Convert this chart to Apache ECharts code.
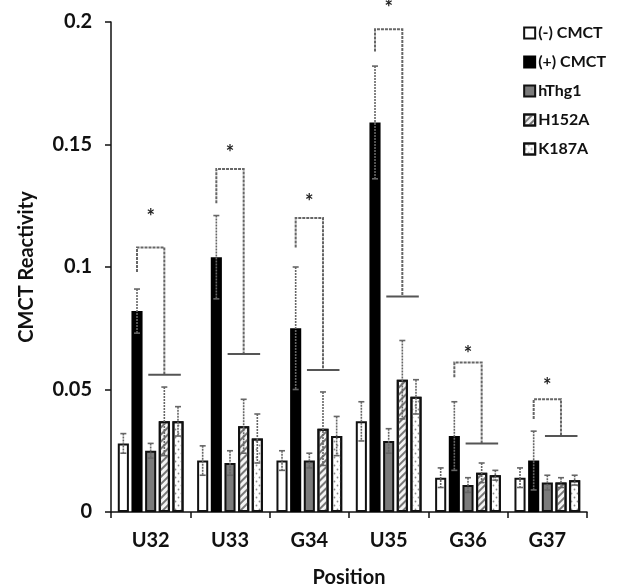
<!DOCTYPE html>
<html>
<head>
<meta charset="utf-8">
<script src="https://cdn.jsdelivr.net/npm/echarts@6/dist/echarts.min.js"></script>
<style>
html,body{margin:0;padding:0;background:#fff;}
#chart{width:617px;height:587px;}
</style>
</head>
<body>
<div id="chart"></div>
<script>
// ---- data ----
const categories = ['U32', 'U33', 'G34', 'U35', 'G36', 'G37'];
const seriesNames = ['(-) CMCT', '(+) CMCT', 'hThg1', 'H152A', 'K187A'];
const minusCMCT = [0.028, 0.021, 0.021, 0.037, 0.014, 0.014];
const minusErr  = [0.004, 0.006, 0.004, 0.008, 0.004, 0.004];
const plusCMCT  = [0.082, 0.104, 0.075, 0.159, 0.031, 0.021];
const plusErr   = [0.009, 0.017, 0.025, 0.023, 0.014, 0.012];
const hThg1     = [0.025, 0.020, 0.021, 0.029, 0.011, 0.012];
const hThg1Err  = [0.003, 0.005, 0.003, 0.005, 0.003, 0.003];
const H152A     = [0.037, 0.035, 0.034, 0.054, 0.016, 0.012];
const H152AErr  = [0.014, 0.011, 0.015, 0.016, 0.004, 0.002];
const K187A     = [0.037, 0.030, 0.031, 0.047, 0.015, 0.013];
const K187AErr  = [0.006, 0.010, 0.008, 0.007, 0.002, 0.002];
// significance brackets (data units)
const bracketLow = [0.098, 0.126, 0.108, 0.188, 0.055, 0.038];
const bracketTop = [0.108, 0.140, 0.120, 0.197, 0.061, 0.046];
const bracketBar = [0.056, 0.0645, 0.058, 0.088, 0.028, 0.031];
const starLevel  = [0.122, 0.148, 0.128, 0.207, 0.066, 0.053];
const yTicks = [0, 0.05, 0.1, 0.15, 0.2];

const values = [minusCMCT, plusCMCT, hThg1, H152A, K187A];
const errors = [minusErr, plusErr, hThg1Err, H152AErr, K187AErr];

// ---- layout / style ----
const BAR_W = 0.14, BAR_GAP = 0.23;
const STEP = BAR_W * (1 + BAR_GAP);
const FONT = 'Lato';

const styles = [
  {color: '#ffffff', borderColor: '#111', borderWidth: 2},
  {color: '#000000', borderColor: '#000', borderWidth: 2},
  {color: '#7b7b7b', borderColor: '#111', borderWidth: 2},
  {color: '#f4f4f4', borderColor: '#111', borderWidth: 2,
   decal: {symbol: 'rect', color: '#777', dashArrayX: [1, 0], dashArrayY: [1.5, 2.5], rotation: -Math.PI / 4}},
  {color: '#ffffff', borderColor: '#111', borderWidth: 2,
   decal: {symbol: 'circle', color: '#8a8a8a', symbolSize: 0.6, dashArrayX: [[3, 3], [0, 3, 3, 0]], dashArrayY: [3, 1], rotation: 0}}
];

const barSeries = seriesNames.map((n, i) => ({
  name: n, type: 'bar', data: values[i], barWidth: (BAR_W * 100) + '%', barGap: (BAR_GAP * 100) + '%',
  itemStyle: styles[i], z: 2, emphasis: {disabled: true}
}));

const errData = [];
values.forEach((arr, s) => arr.forEach((v, c) => errData.push([c, v, errors[s][c], s])));

const errSeries = {
  type: 'custom', name: 'err', z: 5, clip: false, silent: true,
  data: errData, encode: {x: 0, y: 1},
  renderItem: function (params, api) {
    const c = api.value(0), v = api.value(1), e = api.value(2), s = api.value(3);
    const band = api.size([1, 0])[0];
    const x = api.coord([c, v])[0] + (s - 2) * STEP * band;
    const yT = api.coord([c, v + e])[1];
    const yB = api.coord([c, Math.max(0, v - e)])[1];
    const st = {stroke: '#666', lineWidth: 1.6, lineDash: [2, 1]};
    const cap = 3;
    return {type: 'group', children: [
      {type: 'line', shape: {x1: x, y1: yT, x2: x, y2: yB}, style: st},
      {type: 'line', shape: {x1: x - cap, y1: yT, x2: x + cap, y2: yT}, style: {stroke: '#666', lineWidth: 1.6}},
      {type: 'line', shape: {x1: x - cap, y1: yB, x2: x + cap, y2: yB}, style: {stroke: '#666', lineWidth: 1.6}}
    ]};
  }
};

const brData = categories.map((c, i) => [i, bracketLow[i], bracketTop[i], bracketBar[i], starLevel[i]]);
const bracketSeries = {
  type: 'custom', name: 'bracket', z: 6, clip: false, silent: true,
  data: brData, encode: {x: 0, y: 1},
  renderItem: function (params, api) {
    const c = api.value(0);
    const band = api.size([1, 0])[0];
    const cx = api.coord([c, 0])[0];
    const xl = cx - STEP * band, xr = cx + STEP * band;
    const yLow = api.coord([c, api.value(1)])[1];
    const yTop = api.coord([c, api.value(2)])[1];
    const yBar = api.coord([c, api.value(3)])[1];
    const yStar = api.coord([c, api.value(4)])[1];
    return {type: 'group', children: [
      {type: 'polyline', shape: {points: [[xl, yLow], [xl, yTop], [xr, yTop], [xr, yBar]]},
       style: {stroke: '#666', lineWidth: 2, fill: null, lineDash: [3, 1]}},
      {type: 'line', shape: {x1: cx - 0.03 * band, y1: yBar, x2: cx + 0.38 * band, y2: yBar},
       style: {stroke: '#555', lineWidth: 2}},
      {type: 'text', x: (xl + xr) / 2, y: yStar + 4,
       style: {text: '*', fill: '#222', font: 'bold 20px ' + FONT, align: 'center', verticalAlign: 'middle'}}
    ]};
  }
};

const chart = echarts.init(document.getElementById('chart'), null, {renderer: 'canvas'});
chart.setOption({
  animation: false,
  backgroundColor: '#ffffff',
  grid: {left: 111, right: 30, top: 22, bottom: 75, containLabel: false, outerBoundsMode: 'none'},
  legend: {
    data: seriesNames, orient: 'vertical', right: 6, top: 20,
    itemWidth: 11, itemHeight: 11, itemGap: 13, icon: 'rect',
    textStyle: {fontFamily: FONT, fontWeight: 'bold', fontSize: 16, color: '#111', padding: [0, 0, 0, -2]},
    selectedMode: false
  },
  xAxis: {
    type: 'category', data: categories, boundaryGap: true,
    axisLine: {lineStyle: {color: '#111', width: 1.5}},
    axisTick: {show: true, length: 6, inside: false, lineStyle: {color: '#111', width: 1.5}},
    axisLabel: {fontFamily: FONT, fontWeight: 'bold', fontSize: 20, color: '#111', margin: 19},
    name: 'Position', nameLocation: 'middle', nameGap: 56,
    nameTextStyle: {fontFamily: FONT, fontWeight: 'bold', fontSize: 20, color: '#111'},
    splitLine: {show: false}
  },
  yAxis: {
    type: 'value', min: yTicks[0], max: yTicks[yTicks.length - 1], interval: yTicks[1] - yTicks[0],
    axisLine: {show: true, lineStyle: {color: '#111', width: 1.5}},
    axisTick: {show: true, length: 6, inside: false, lineStyle: {color: '#111', width: 1.5}},
    axisLabel: {fontFamily: FONT, fontWeight: 'bold', fontSize: 20, color: '#111', margin: 19},
    splitLine: {show: false},
    name: 'CMCT Reactivity', nameLocation: 'middle', nameGap: 74,
    nameTextStyle: {fontFamily: FONT, fontWeight: 'bold', fontSize: 20, color: '#111'}
  },
  series: barSeries.concat([errSeries, bracketSeries])
});
</script>
</body>
</html>
